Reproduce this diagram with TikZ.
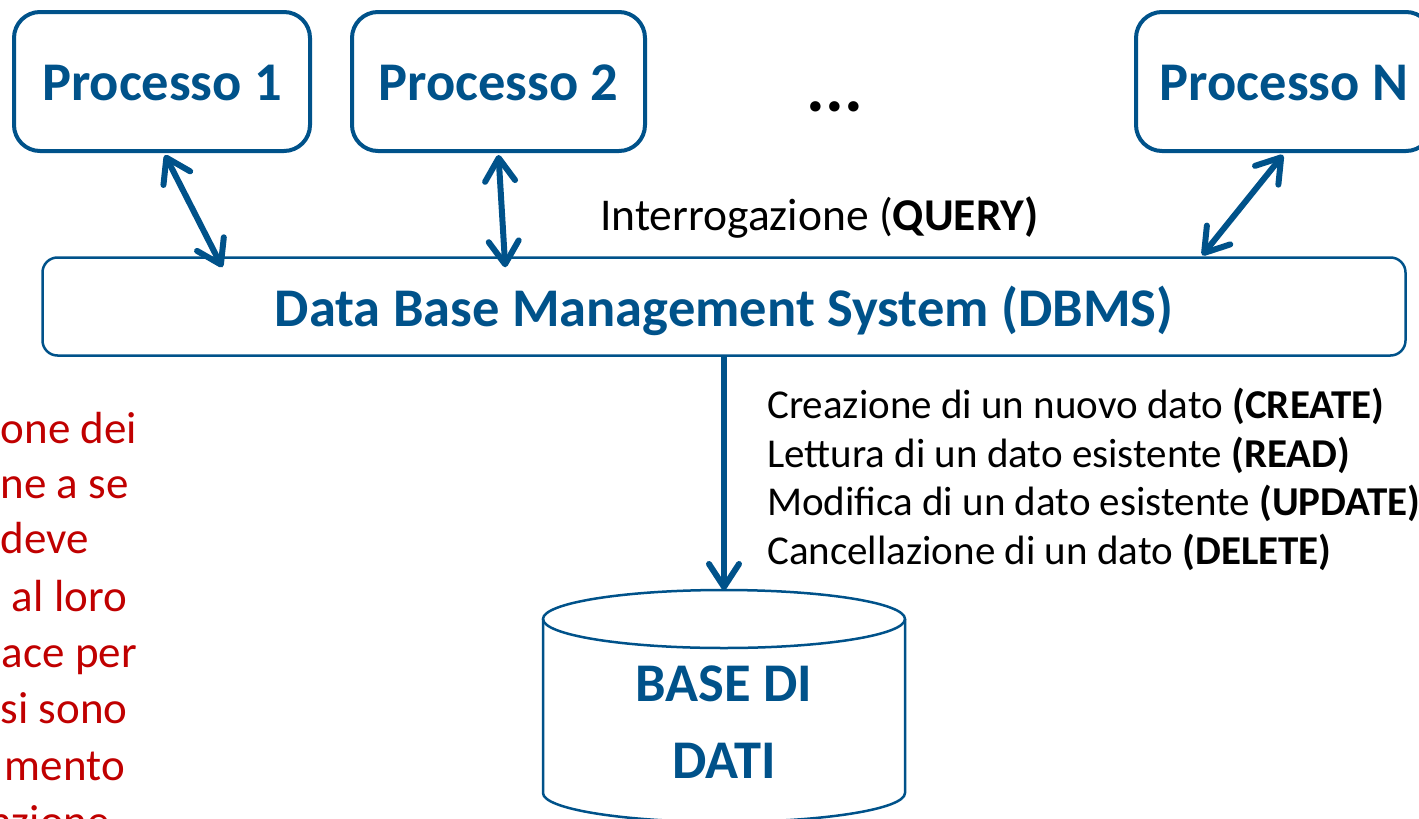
\documentclass[tikz,border=0pt]{standalone}
\usepackage{fontspec}
\setmainfont{Carlito}
\usetikzlibrary{arrows.meta,calc}
\definecolor{dbblue}{RGB}{0,82,138}
\definecolor{dbred}{RGB}{192,0,0}
\begin{document}
\begin{tikzpicture}[x=1pt,y=-1pt,
  procbox/.style={draw=dbblue, line width=4pt, rounded corners=26pt,
    minimum width=296pt, minimum height=139pt, inner sep=0pt,
    text height=37pt, text depth=0pt,
    text=dbblue, font=\fontsize{54.5}{60}\selectfont\bfseries},
  dbmsbox/.style={draw=dbblue, line width=2.5pt, rounded corners=15pt,
    minimum width=1363pt, minimum height=98pt, inner sep=0pt,
    text height=39pt, text depth=0pt,
    text=dbblue, font=\fontsize{54.5}{60}\selectfont\bfseries},
  biarrow/.style={draw=dbblue, line width=6pt, {Straight Barb[length=23pt,width=30pt,round]}-{Straight Barb[length=23pt,width=30pt,round]}},
  onearrow/.style={draw=dbblue, line width=6pt, -{Straight Barb[length=23pt,width=30pt,round]}},
  querytext/.style={font=\fontsize{45.5}{54}\selectfont, text=black, inner sep=0pt},
  crudtext/.style={font=\fontsize{41}{48}\selectfont, text=black, inner sep=0pt, anchor=base west},
  redtext/.style={font=\fontsize{45}{56}\selectfont, text=dbred, inner sep=0pt},
  dbtext/.style={font=\fontsize{54.5}{60}\selectfont\bfseries, text=dbblue, inner sep=0pt, anchor=base},
  cylline/.style={draw=dbblue, line width=2.5pt}
]
\useasboundingbox (0,0) rectangle (1419,819);
\clip (0,0) rectangle (1419,819);

% process boxes
\node[procbox] (p1) at (162,81.5) {Processo 1};
\node[procbox, minimum width=293pt] (p2) at (498.5,81.5) {Processo 2};
\node[procbox] (pn) at (1284,81.5) {Processo N};
\node[font=\fontsize{70}{70}\selectfont\bfseries, text=black, inner sep=0pt, anchor=base] (dots) at (835,111) {...};

% DBMS
\node[dbmsbox] (dbms) at (724,306.5) {Data Base Management System (DBMS)};

% query label
\node[querytext, anchor=base west] (query) at (600,230) {Interrogazione (\textbf{QUERY)}};

% arrows processes <-> DBMS
\coordinate (a1top) at ($(p1.south)+(3,2)$);
\coordinate (a1bot) at ($(dbms.north west)+(181,11)$);
\coordinate (a2top) at ($(p2.south)+(0,2)$);
\coordinate (a2bot) at ($(dbms.north west)+(464,11)$);
\coordinate (antop) at ($(pn.south)+(-1,2)$);
\coordinate (anbot) at ($(dbms.north west)+(1161,-1)$);
\draw[biarrow] (a1top) -- (a1bot);
\draw[biarrow] (a2top) -- (a2bot);
\draw[biarrow] (antop) -- (anbot);

% database cylinder
\draw[cylline] (724,619) ellipse [x radius=181, y radius=29];
\draw[cylline] (543,619) -- (543,793) arc [start angle=180, end angle=0, x radius=181, y radius=29] -- (905,619);
\coordinate (dbtop) at (724,590);
\node[dbtext] (db1) at (724,701) {BASE DI};
\node[dbtext] (db2) at (724,778) {DATI};

% DBMS -> database
\draw[onearrow] (dbms.south) -- (dbtop);

% CRUD labels
\node[crudtext] (c1) at (767,418) {Creazione di un nuovo dato \textbf{(CREATE)}};
\node[crudtext] (c2) at (767,467) {Lettura di un dato esistente \textbf{(READ)}};
\node[crudtext] (c3) at (767,515.5) {Modifica di un dato esistente \textbf{(UPDATE)}};
\node[crudtext] (c4) at (767,564) {Cancellazione di un dato \textbf{(DELETE)}};

% red text (cut at the left edge)
\node[redtext, anchor=base west] (r1) at (0.5,443) {one dei};
\node[redtext, anchor=base west] (r2) at (0.5,498) {ne a se};
\node[redtext, anchor=base west] (r3) at (0.5,553) {deve};
\node[redtext, anchor=base east] (r4) at (127,611) {al loro};
\node[redtext, anchor=base east] (r5) at (137,667) {ace per};
\node[redtext, anchor=base west] (r6) at (0.5,723) {si sono};
\node[redtext, anchor=base east] (r7) at (125,780) {mento};
\node[redtext, anchor=base east] (r8) at (110,836) {azione};
\end{tikzpicture}
\end{document}
